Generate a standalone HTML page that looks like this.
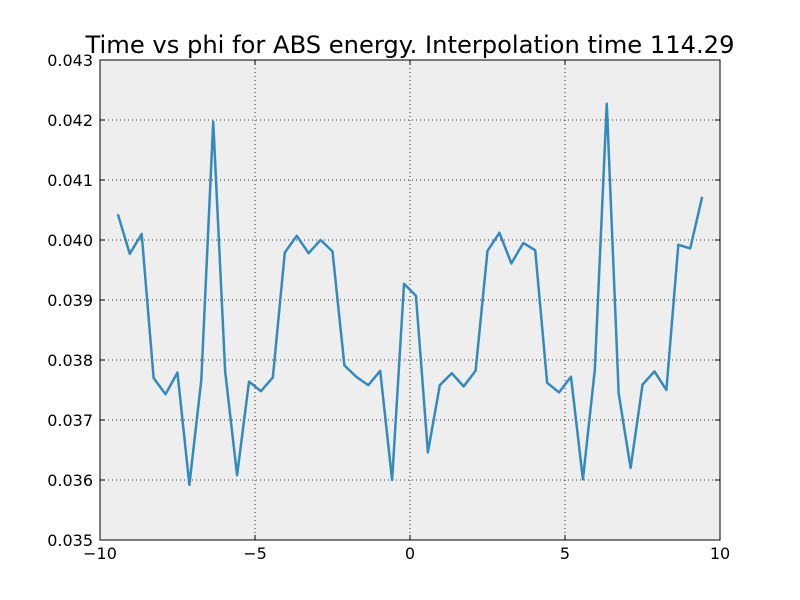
<!DOCTYPE html>
<html><head><meta charset="utf-8"><style>
body{margin:0;background:#fff;}
svg{display:block;font-family:"DejaVu Sans","Liberation Sans",sans-serif;}
</style></head><body>
<svg id="chart" width="800" height="600">
<rect x="0" y="0" width="800" height="600" fill="#ffffff"/>
<text x="410" y="53" font-size="24.2" text-anchor="middle" fill="#000">Time vs phi for ABS energy. Interpolation time 114.29</text>
<rect x="100" y="60" width="620" height="480" fill="#eeeeee"/>
<g id="grid"></g>
<g id="ticks"></g>
<g id="series"></g>
<rect x="100" y="60" width="620" height="480" fill="none" stroke="#000" stroke-width="1"/>
</svg>
<script>
const yValues=[0.04043,0.03977,0.0401,0.03770,0.03743,0.03779,0.03592,0.03767,0.04197,0.03781,
0.03608,0.03764,0.03748,0.03771,0.03979,0.04007,0.03978,0.0400,0.03981,0.03791,
0.03772,0.03758,0.03782,0.0360,0.03927,0.03907,0.03646,0.03758,0.03778,0.03756,
0.03782,0.03982,0.04012,0.03961,0.03995,0.03983,0.03762,0.03746,0.03772,0.03601,
0.03784,0.04227,0.03744,0.03620,0.03759,0.03781,0.0375,0.03992,0.03986,0.04072];
const xStart=-3*Math.PI, xEnd=3*Math.PI;
const xTicks=[-10,-5,0,5,10];
const yTicks=[0.035,0.036,0.037,0.038,0.039,0.040,0.041,0.042,0.043];
const yTickLabels=["0.035","0.036","0.037","0.038","0.039","0.040","0.041","0.042","0.043"];

const NS="http://www.w3.org/2000/svg";
const X0=100,X1=720,Y0=540,Y1=60;
function sx(v){return X0+(v-(-10))/20*(X1-X0);}
function sy(v){return Y0-(v-0.035)/0.008*(Y0-Y1);}
function mk(tag,attrs,parent){const e=document.createElementNS(NS,tag);for(const k in attrs)e.setAttribute(k,attrs[k]);parent.appendChild(e);return e;}
const grid=document.getElementById('grid'),ticks=document.getElementById('ticks'),series=document.getElementById('series');
xTicks.forEach(t=>{
  const x=sx(t);
  const g=mk('line',{x1:x,x2:x,y1:Y1,y2:Y0,stroke:'#000','stroke-width':1,'stroke-dasharray':'1,3','stroke-opacity':0.8},grid);
  
  
  const a=mk('line',{x1:x,x2:x,y1:Y0,y2:Y0-5,stroke:'#000'},ticks);
  
  
  const b=mk('line',{x1:x,x2:x,y1:Y1,y2:Y1+5,stroke:'#000'},ticks);
  
  
  const l=mk('text',{x:x,y:559,'font-size':16,'text-anchor':'middle',fill:'#000'},ticks);
  l.textContent=String(t).replace('-','\u2212');
  
  
});
yTicks.forEach((t,i)=>{
  const y=sy(t);
  const g=mk('line',{x1:X0,x2:X1,y1:y,y2:y,stroke:'#000','stroke-width':1,'stroke-dasharray':'1,3','stroke-opacity':0.8},grid);
  
  
  const a=mk('line',{x1:X0,x2:X0+5,y1:y,y2:y,stroke:'#000'},ticks);
  
  
  const b=mk('line',{x1:X1,x2:X1-5,y1:y,y2:y,stroke:'#000'},ticks);
  
  
  const l=mk('text',{x:93,y:y+6,'font-size':16,'text-anchor':'end',fill:'#000'},ticks);
  l.textContent=yTickLabels[i];
  
  
});
const n=yValues.length;
const pts=yValues.map((v,i)=>{const xv=xStart+(xEnd-xStart)*i/(n-1);return sx(xv).toFixed(2)+','+sy(v).toFixed(2);}).join(' ');
const line=mk('polyline',{points:pts,fill:'none',stroke:'#348ABD','stroke-width':2.5,'stroke-linejoin':'round'},series);


</script>
</body></html>
